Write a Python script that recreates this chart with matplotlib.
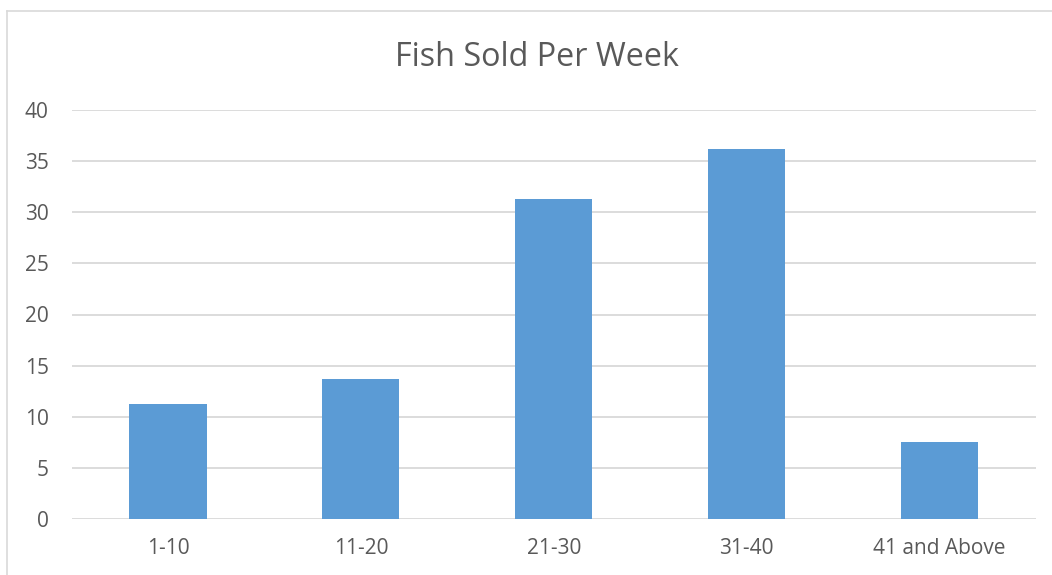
import matplotlib.pyplot as plt
from matplotlib.lines import Line2D

categories = ['1-10', '11-20', '21-30', '31-40', '41 and Above']
fish_sold = [11.25, 13.7, 31.3, 36.2, 7.5]
y_ticks = [0, 5, 10, 15, 20, 25, 30, 35, 40]

plt.rcParams['font.family'] = ['Open Sans', 'DejaVu Sans']

W, H = 1052, 575
fig = plt.figure(figsize=(W / 100, H / 100), dpi=100)
ax = fig.add_axes([71.5 / W, 1 - 519 / H, (1036 - 71.5) / W, (519 - 110) / H])

ax.bar(range(len(categories)), fish_sold, width=0.4, color='#5b9bd5', zorder=3)
ax.set_xlim(-0.5, len(categories) - 0.5)
ax.set_ylim(0, 40)
ax.set_yticks(y_ticks)
ax.set_xticks(range(len(categories)))
ax.set_xticklabels(categories)
ax.grid(axis='y', color='#d9d9d9', lw=1.3, zorder=0)
for s in ax.spines.values():
    s.set_visible(False)
ax.tick_params(length=0, labelsize=15, labelcolor='#595959')
ax.tick_params(axis='y', pad=16.5)
ax.tick_params(axis='x', pad=14)

fig.text(537 / W, 1 - 57 / H, 'Fish Sold Per Week', ha='center', va='center',
         fontsize=23.3, color='#595959')

# chart border (runs off the right and bottom edges)
fig.add_artist(Line2D([7 / W, 1], [1 - 10.5 / H] * 2, color='#d9d9d9', lw=1.2))
fig.add_artist(Line2D([7 / W] * 2, [0, 1 - 10.5 / H], color='#d9d9d9', lw=1.2))

fig.savefig('out.png', dpi=100)
